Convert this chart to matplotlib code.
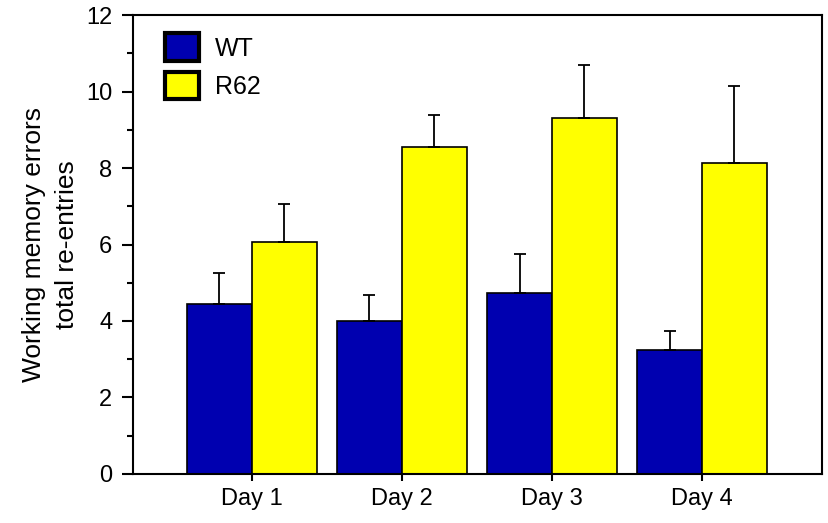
import matplotlib.pyplot as plt
from matplotlib.patches import Patch
import numpy as np

plt.rcParams['font.family'] = ['Liberation Sans', 'DejaVu Sans']

days = ['Day 1', 'Day 2', 'Day 3', 'Day 4']
wt_mean = [4.44, 3.99, 4.74, 3.23]
wt_err = [0.81, 0.68, 1.01, 0.51]
r62_mean = [6.07, 8.55, 9.31, 8.12]
r62_err = [0.99, 0.84, 1.38, 2.02]

blue = '#0000B0'
yellow = '#FFFF00'

fig = plt.figure(figsize=(8.29, 5.23), dpi=100)
ax = fig.add_axes([0.1604, 0.0937, 0.8312, 0.8776])

x = np.arange(1, len(days) + 1)
w = 0.433

err_style = dict(ecolor='black', elinewidth=1.3, capsize=4.5, capthick=1.3)
ax.bar(x - w / 2, wt_mean, w, color=blue, edgecolor='black', linewidth=1.2,
       yerr=[np.zeros(4), wt_err], error_kw=err_style, zorder=2)
ax.bar(x + w / 2, r62_mean, w, color=yellow, edgecolor='black', linewidth=1.2,
       yerr=[np.zeros(4), r62_err], error_kw=err_style, zorder=2)

ax.set_xlim(0.207, 4.8)
ax.set_ylim(0, 12)
ax.set_xticks(x)
ax.set_xticklabels(days)
ax.set_yticks(range(0, 13, 2))
ax.set_yticks(range(1, 12, 2), minor=True)

for s in ax.spines.values():
    s.set_linewidth(1.5)
ax.tick_params(axis='y', which='major', direction='out', length=8,
               width=1.5, labelsize=17, pad=7)
ax.tick_params(axis='y', which='minor', direction='out', length=4.5, width=1.5)
ax.tick_params(axis='x', which='major', direction='out', length=5,
               width=1.5, labelsize=17, pad=5)

ax.set_ylabel('Working memory errors\ntotal re-entries', fontsize=19,
              labelpad=5, linespacing=1.45)

handles = [Patch(facecolor=blue, edgecolor='black', linewidth=3),
           Patch(facecolor=yellow, edgecolor='black', linewidth=3)]
ax.legend(handles, ['WT', 'R62'], loc='upper left',
          bbox_to_anchor=(0.047, 0.96), frameon=False, borderpad=0,
          borderaxespad=0, handlelength=1.33, handleheight=1.33,
          labelspacing=0.42, handletextpad=0.65, fontsize=18)

fig.savefig('out.png', dpi=100)
